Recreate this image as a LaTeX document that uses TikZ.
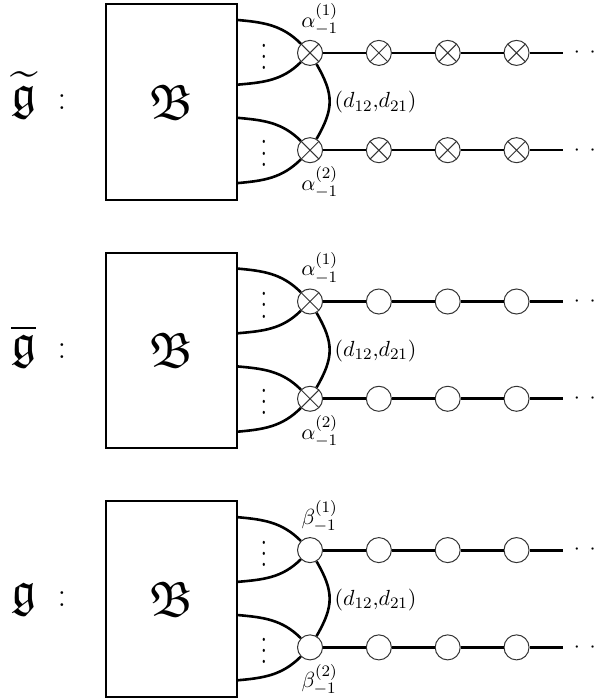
\documentclass[tikz,border=0pt,11pt]{standalone}
\usepackage{amssymb}

\begin{document}
\begin{tikzpicture}[x=1cm,y=1cm,
  ring/.style={draw=black!80,line width=0.5pt,circle,minimum size=0.44cm,inner sep=0pt,fill=white},
  cross/.style={ring,path picture={\draw[black!80,line width=0.5pt]
    (path picture bounding box.south west) -- (path picture bounding box.north east)
    (path picture bounding box.north west) -- (path picture bounding box.south east);}},
  frame/.style={draw,line width=1pt,minimum width=2.30cm,minimum height=3.44cm,inner sep=0pt,font=\Huge},
  arm/.style={line width=1.3pt},
  thinlink/.style={line width=0.7pt},
  link/.style={line width=1.6pt},
  tag/.style={inner sep=1pt},
  lead/.style={anchor=base,font=\Huge},
  colon/.style={anchor=base,font=\LARGE}]
\useasboundingbox (0,0) rectangle (10.63,-12.27);

% first row: all crossed
\node[lead] (lead1) at (0.42,-1.93) {$\widetilde{\mathfrak g}$};
\node[colon] (col1) at (1.09,-1.93) {$:$};
\node[frame] (box1) at (3.01,-1.79) {$\mathfrak B$};
\coordinate (s11) at (4.16,-0.35);
\coordinate (s12) at (4.16,-1.49);
\coordinate (s13) at (4.16,-2.07);
\coordinate (s14) at (4.16,-3.22);
\node[cross] (u11) at (5.45,-0.93) {};
\node[cross] (u12) at (6.66,-0.93) {};
\node[cross] (u13) at (7.87,-0.93) {};
\node[cross] (u14) at (9.08,-0.93) {};
\node[cross] (l11) at (5.45,-2.64) {};
\node[cross] (l12) at (6.66,-2.64) {};
\node[cross] (l13) at (7.87,-2.64) {};
\node[cross] (l14) at (9.08,-2.64) {};
\coordinate (eu1) at (9.89,-0.93);
\coordinate (el1) at (9.89,-2.64);
\draw[arm] (s11) to[out=-5,in=135] (u11);
\draw[arm] (s12) to[out=5,in=-135] (u11);
\draw[arm] (s13) to[out=-5,in=135] (l11);
\draw[arm] (s14) to[out=5,in=-135] (l11);
\draw[arm] (u11) to[out=-60,in=60,looseness=1.2] (l11);
\draw[thinlink] (u11) -- (u12) -- (u13) -- (u14) -- (eu1);
\draw[thinlink] (l11) -- (l12) -- (l13) -- (l14) -- (el1);
\node[yscale=1.4] (vu1) at (4.64,-0.85) {$\vdots$};
\node[yscale=1.4] (vl1) at (4.64,-2.55) {$\vdots$};
\node (du1) at (10.42,-0.93) {$\cdotp\;\cdotp\;\cdotp$};
\node (dl1) at (10.42,-2.64) {$\cdotp\;\cdotp\;\cdotp$};
\node[tag] (au1) at (5.62,-0.34) {$\alpha^{(1)}_{-1}$};
\node[tag] (al1) at (5.62,-3.21) {$\alpha^{(2)}_{-1}$};
\node[tag,anchor=west] (dd1) at (5.84,-1.80) {$(d_{12}{,}d_{21})$};

% second row: crossed heads, plain chain
\node[lead] (lead2) at (0.42,-6.30) {$\overline{\mathfrak g}$};
\node[colon] (col2) at (1.09,-6.30) {$:$};
\node[frame] (box2) at (3.01,-6.16) {$\mathfrak B$};
\coordinate (s21) at (4.16,-4.72);
\coordinate (s22) at (4.16,-5.86);
\coordinate (s23) at (4.16,-6.44);
\coordinate (s24) at (4.16,-7.59);
\node[cross] (u21) at (5.45,-5.30) {};
\node[ring] (u22) at (6.66,-5.30) {};
\node[ring] (u23) at (7.87,-5.30) {};
\node[ring] (u24) at (9.08,-5.30) {};
\node[cross] (l21) at (5.45,-7.01) {};
\node[ring] (l22) at (6.66,-7.01) {};
\node[ring] (l23) at (7.87,-7.01) {};
\node[ring] (l24) at (9.08,-7.01) {};
\coordinate (eu2) at (9.89,-5.30);
\coordinate (el2) at (9.89,-7.01);
\draw[arm] (s21) to[out=-5,in=135] (u21);
\draw[arm] (s22) to[out=5,in=-135] (u21);
\draw[arm] (s23) to[out=-5,in=135] (l21);
\draw[arm] (s24) to[out=5,in=-135] (l21);
\draw[arm] (u21) to[out=-60,in=60,looseness=1.2] (l21);
\draw[link] (u21) -- (u22) -- (u23) -- (u24) -- (eu2);
\draw[link] (l21) -- (l22) -- (l23) -- (l24) -- (el2);
\node[yscale=1.4] (vu2) at (4.64,-5.22) {$\vdots$};
\node[yscale=1.4] (vl2) at (4.64,-6.92) {$\vdots$};
\node (du2) at (10.42,-5.30) {$\cdotp\;\cdotp\;\cdotp$};
\node (dl2) at (10.42,-7.01) {$\cdotp\;\cdotp\;\cdotp$};
\node[tag] (au2) at (5.62,-4.71) {$\alpha^{(1)}_{-1}$};
\node[tag] (al2) at (5.62,-7.58) {$\alpha^{(2)}_{-1}$};
\node[tag,anchor=west] (dd2) at (5.84,-6.17) {$(d_{12}{,}d_{21})$};

% third row: all plain
\node[lead] (lead3) at (0.42,-10.67) {$\mathfrak g$};
\node[colon] (col3) at (1.09,-10.67) {$:$};
\node[frame] (box3) at (3.01,-10.53) {$\mathfrak B$};
\coordinate (s31) at (4.16,-9.09);
\coordinate (s32) at (4.16,-10.23);
\coordinate (s33) at (4.16,-10.81);
\coordinate (s34) at (4.16,-11.96);
\node[ring] (u31) at (5.45,-9.67) {};
\node[ring] (u32) at (6.66,-9.67) {};
\node[ring] (u33) at (7.87,-9.67) {};
\node[ring] (u34) at (9.08,-9.67) {};
\node[ring] (l31) at (5.45,-11.38) {};
\node[ring] (l32) at (6.66,-11.38) {};
\node[ring] (l33) at (7.87,-11.38) {};
\node[ring] (l34) at (9.08,-11.38) {};
\coordinate (eu3) at (9.89,-9.67);
\coordinate (el3) at (9.89,-11.38);
\draw[arm] (s31) to[out=-5,in=135] (u31);
\draw[arm] (s32) to[out=5,in=-135] (u31);
\draw[arm] (s33) to[out=-5,in=135] (l31);
\draw[arm] (s34) to[out=5,in=-135] (l31);
\draw[arm] (u31) to[out=-60,in=60,looseness=1.2] (l31);
\draw[link] (u31) -- (u32) -- (u33) -- (u34) -- (eu3);
\draw[link] (l31) -- (l32) -- (l33) -- (l34) -- (el3);
\node[yscale=1.4] (vu3) at (4.64,-9.59) {$\vdots$};
\node[yscale=1.4] (vl3) at (4.64,-11.29) {$\vdots$};
\node (du3) at (10.42,-9.67) {$\cdotp\;\cdotp\;\cdotp$};
\node (dl3) at (10.42,-11.38) {$\cdotp\;\cdotp\;\cdotp$};
\node[tag] (au3) at (5.62,-9.08) {$\beta^{(1)}_{-1}$};
\node[tag] (al3) at (5.62,-11.95) {$\beta^{(2)}_{-1}$};
\node[tag,anchor=west] (dd3) at (5.84,-10.54) {$(d_{12}{,}d_{21})$};
\end{tikzpicture}
\end{document}
